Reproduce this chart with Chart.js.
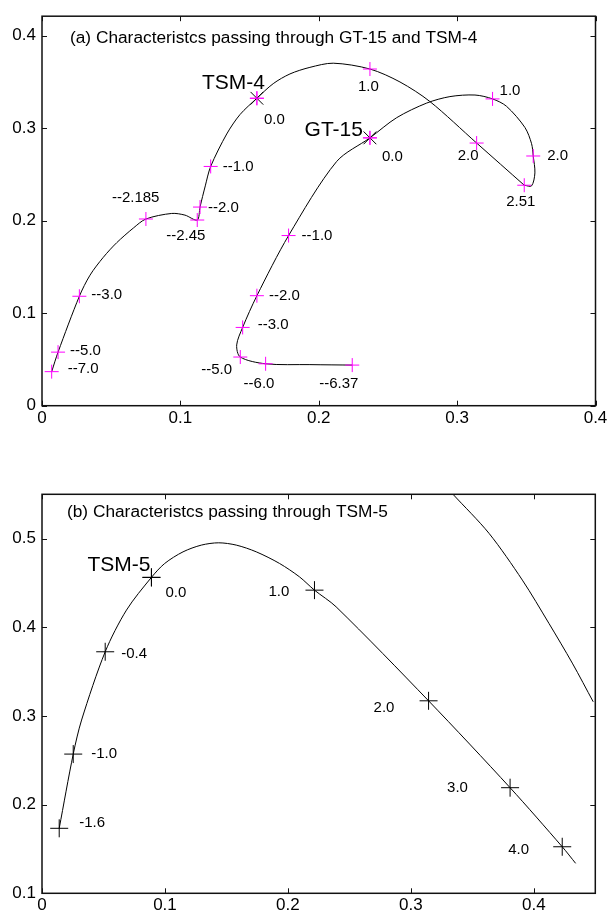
<!DOCTYPE html>
<html>
<head>
<meta charset="utf-8">
<script src="https://cdn.jsdelivr.net/npm/chart.js@4.4.0/dist/chart.umd.min.js"></script>
<style>
  html, body { margin: 0; padding: 0; background: #fff; }
  #wrap { position: relative; width: 616px; height: 916px; }
  canvas { position: absolute; left: 0; }
</style>
</head>
<body>
<div id="wrap">
  <canvas id="chartA" width="616" height="432" style="top:0"></canvas>
  <canvas id="chartB" width="616" height="456" style="top:460px"></canvas>
</div>
<script>
const FONT = '"Liberation Sans", Arial, sans-serif';

// ---- panel (a): GT-15 and TSM-4 ----
const xTicksA = [0, 0.1, 0.2, 0.3, 0.4];
const yTicksA = [0, 0.1, 0.2, 0.3, 0.4];

const tsm4CurveX = [0.0070, 0.0116, 0.0270, 0.0347, 0.0443, 0.0540, 0.0660, 0.0751, 0.0937, 0.1033, 0.1122,
  0.1142, 0.1180, 0.1219, 0.1335, 0.1431, 0.1553, 0.1671, 0.1792, 0.1936, 0.2105, 0.2370, 0.2587, 0.2803,
  0.3141, 0.3485];
const tsm4CurveY = [0.0368, 0.0579, 0.1183, 0.1411, 0.1604, 0.1762, 0.1920, 0.2018, 0.2078, 0.2060, 0.2007,
  0.2147, 0.2376, 0.2586, 0.2937, 0.3147, 0.3323, 0.3481, 0.3586, 0.3657, 0.3702, 0.3639, 0.3499, 0.3288,
  0.2839, 0.2383];

const gt15CurveX = [0.2242, 0.1936, 0.1616, 0.1433, 0.1407, 0.1450, 0.1553, 0.1782, 0.2129, 0.2370, 0.2563,
  0.2780, 0.2948, 0.3129, 0.3256, 0.3357, 0.3490, 0.3538, 0.3550, 0.3562, 0.3538, 0.3485];
const gt15CurveY = [0.0439, 0.0444, 0.0453, 0.0526, 0.0657, 0.0846, 0.1189, 0.1839, 0.2639, 0.2895, 0.3113,
  0.3271, 0.3341, 0.3358, 0.3316, 0.3236, 0.3007, 0.2832, 0.2699, 0.2516, 0.2376, 0.2383];

const tsm4MarkX = [0.0070, 0.0116, 0.0270, 0.0751, 0.1122, 0.1142, 0.1219, 0.1553, 0.2370, 0.3141, 0.3485];
const tsm4MarkY = [0.0368, 0.0579, 0.1183, 0.2018, 0.2007, 0.2147, 0.2586, 0.3323, 0.3639, 0.2839, 0.2383];
const tsm4MarkText = ['--7.0', '--5.0', '--3.0', '--2.185', '--2.45', '--2.0', '--1.0', '0.0', '1.0', '2.0', '2.51'];
const tsm4LabelOffsets = [[16, -3], [12, -1], [12, -1], [-34, -21], [-31, 16], [8, 1], [12, 0], [7, 22], [-12, 18], [-19, 13], [-18, 17]];

const gt15MarkX = [0.2242, 0.1616, 0.1433, 0.1450, 0.1553, 0.1782, 0.2370, 0.3256, 0.3550];
const gt15MarkY = [0.0439, 0.0453, 0.0526, 0.0846, 0.1189, 0.1839, 0.2895, 0.3316, 0.2699];
const gt15MarkText = ['--6.37', '--6.0', '--5.0', '--3.0', '--2.0', '--1.0', '0.0', '1.0', '2.0'];
const gt15LabelOffsets = [[-33, 19], [-22, 20], [-39, 13], [15, -3], [12, 0], [13, 0], [12, 19], [7, -8], [14, 0]];

const stationX = [0.1553, 0.2370];
const stationY = [0.3323, 0.2895];
const stationNames = ['TSM-4', 'GT-15'];
const stationNameOffsets = [[8, -9], [-7, -2]];

// ---- panel (b): TSM-5 ----
const xTicksB = [0, 0.1, 0.2, 0.3, 0.4];
const yTicksB = [0.1, 0.2, 0.3, 0.4, 0.5];

const tsm5CurveX = [0.0140, 0.0254, 0.0322, 0.0514, 0.0687, 0.0890, 0.0998, 0.1147, 0.1296, 0.1437, 0.1580,
  0.1743, 0.1932, 0.2094, 0.2216, 0.2392, 0.3144, 0.3807, 0.4231, 0.4340];
const tsm5CurveY = [0.1733, 0.2570, 0.2954, 0.3724, 0.4194, 0.4563, 0.4720, 0.4851, 0.4927, 0.4953, 0.4927,
  0.4851, 0.4720, 0.4569, 0.4419, 0.4231, 0.3171, 0.2191, 0.1525, 0.1338];

const outerCurveX = [0.3344, 0.3636, 0.3907, 0.4123, 0.4313, 0.4483];
const outerCurveY = [0.5498, 0.5059, 0.4532, 0.4044, 0.3596, 0.3160];

const tsm5MarkX = [0.0140, 0.0254, 0.0514, 0.0890, 0.2216, 0.3144, 0.3807, 0.4231];
const tsm5MarkY = [0.1733, 0.2570, 0.3724, 0.4563, 0.4419, 0.3171, 0.2191, 0.1525];
const tsm5MarkText = ['-1.6', '-1.0', '-0.4', '0.0', '1.0', '2.0', '3.0', '4.0'];
const tsm5LabelOffsets = [[20, -5], [18, 0], [16, 2], [14, 15], [-46, 2], [-55, 7], [-63, 0], [-54, 3]];

const tsm5Name = 'TSM-5';
const tsm5NameOffset = [-1, -6];

const pts = (xs, ys) => xs.map((x, i) => ({ x, y: ys[i] }));

// frame with inward ticks on all four sides
const framePlugin = {
  id: 'frame',
  afterDatasetsDraw(chart) {
    const { ctx, chartArea: a, scales } = chart;
    const t = 5;
    ctx.save();
    ctx.strokeStyle = '#111';
    ctx.lineWidth = 1.5;
    ctx.strokeRect(a.left, a.top, a.right - a.left, a.bottom - a.top);
    ctx.lineWidth = 1;
    ctx.beginPath();
    scales.x.ticks.forEach(tk => {
      const px = Math.round(scales.x.getPixelForValue(tk.value)) + 0.5;
      ctx.moveTo(px, a.bottom); ctx.lineTo(px, a.bottom - t);
      ctx.moveTo(px, a.top); ctx.lineTo(px, a.top + t);
    });
    scales.y.ticks.forEach(tk => {
      const py = Math.round(scales.y.getPixelForValue(tk.value)) + 0.5;
      ctx.moveTo(a.left, py); ctx.lineTo(a.left + t, py);
      ctx.moveTo(a.right, py); ctx.lineTo(a.right - t, py);
    });
    ctx.stroke();
    ctx.restore();
  }
};

// value labels next to markers, station names, panel caption
const textPlugin = {
  id: 'texts',
  afterDatasetsDraw(chart, args, opts) {
    const { ctx, chartArea: a } = chart;
    ctx.save();
    ctx.fillStyle = '#000';
    chart.data.datasets.forEach((ds, i) => {
      if (!ds.pointText) return;
      const meta = chart.getDatasetMeta(i);
      ctx.font = (ds.textSize || 15) + 'px ' + FONT;
      ctx.textAlign = ds.textAlign || 'left';
      ctx.textBaseline = ds.textBaseline || 'middle';
      meta.data.forEach((el, j) => {
        const off = ds.textOffsets[j];
        ctx.fillText(ds.pointText[j], el.x + off[0], el.y + off[1]);
      });
    });
    ctx.font = '17.3px ' + FONT;
    ctx.textAlign = 'left';
    ctx.textBaseline = 'alphabetic';
    ctx.fillText(opts.caption, a.left + opts.dx, a.top + opts.dy);
    ctx.restore();
  }
};

function axis(pos, min, max, ticks, size) {
  return {
    type: 'linear', position: pos, min, max,
    grid: { display: false, drawTicks: false },
    border: { display: false },
    ticks: {
      color: '#000', font: { family: FONT, size: 17 },
      padding: pos === 'left' ? 6 : 2, autoSkip: false, maxRotation: 0,
      callback: v => String(v)
    },
    afterBuildTicks: s => { s.ticks = ticks.map(v => ({ value: v })); },
    afterFit: s => { if (pos === 'left') s.width = size; else s.height = size; }
  };
}

function curve(xs, ys) {
  return {
    data: pts(xs, ys), showLine: true, borderColor: '#000', borderWidth: 1,
    pointRadius: 0, tension: 0.3, fill: false
  };
}

function markers(xs, ys, color, radius, style, extra) {
  return Object.assign({
    data: pts(xs, ys), showLine: false, pointStyle: style || 'cross',
    pointRadius: radius, pointBorderColor: color, pointBorderWidth: 1,
    pointBackgroundColor: color
  }, extra || {});
}

function baseOptions(padTop, padRight, xr, yr, xAxisH, caption) {
  return {
    responsive: false, maintainAspectRatio: false, animation: false,
    layout: { padding: { top: padTop, right: padRight, left: 0, bottom: 0 } },
    scales: { x: axis('bottom', xr[0], xr[1], xr[2], xAxisH), y: axis('left', yr[0], yr[1], yr[2], 42) },
    plugins: { legend: { display: false }, tooltip: { enabled: false }, texts: caption },
    events: []
  };
}

Chart.defaults.font.family = FONT;

new Chart(document.getElementById('chartA'), {
  type: 'scatter',
  data: {
    datasets: [
      markers(stationX, stationY, '#ff00ff', 7, 'cross', {
        pointText: stationNames, textOffsets: stationNameOffsets, textSize: 21,
        textAlign: 'right', textBaseline: 'alphabetic'
      }),
      markers(stationX, stationY, '#000', 9, 'crossRot'),
      markers(tsm4MarkX, tsm4MarkY, '#ff00ff', 7, 'cross', { pointText: tsm4MarkText, textOffsets: tsm4LabelOffsets }),
      markers(gt15MarkX, gt15MarkY, '#ff00ff', 7, 'cross', { pointText: gt15MarkText, textOffsets: gt15LabelOffsets }),
      curve(tsm4CurveX, tsm4CurveY),
      curve(gt15CurveX, gt15CurveY)
    ]
  },
  options: baseOptions(6, 20.5, [0, 0.4, xTicksA], [0, 0.421, yTicksA], 26.3,
    { caption: '(a) Characteristcs passing through GT-15 and TSM-4', dx: 28, dy: 27 }),
  plugins: [framePlugin, textPlugin]
});

new Chart(document.getElementById('chartB'), {
  type: 'scatter',
  data: {
    datasets: [
      markers(tsm5MarkX.slice(3, 4), tsm5MarkY.slice(3, 4), '#000', 9, 'cross', {
        pointText: [tsm5Name], textOffsets: [tsm5NameOffset], textSize: 21,
        textAlign: 'right', textBaseline: 'alphabetic'
      }),
      markers(tsm5MarkX, tsm5MarkY, '#000', 9, 'cross', { pointText: tsm5MarkText, textOffsets: tsm5LabelOffsets }),
      curve(tsm5CurveX, tsm5CurveY),
      curve(outerCurveX, outerCurveY)
    ]
  },
  options: baseOptions(34.3, 20.7, [0, 0.45, xTicksB], [0.1, 0.55, yTicksB], 22.7,
    { caption: '(b) Characteristcs passing through TSM-5', dx: 25, dy: 22.2 }),
  plugins: [framePlugin, textPlugin]
});
</script>
</body>
</html>
